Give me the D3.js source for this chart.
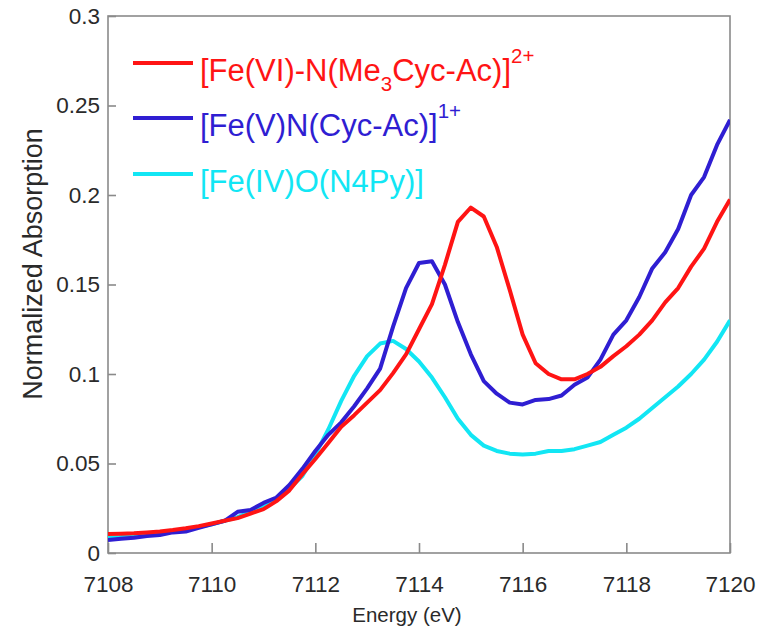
<!DOCTYPE html>
<html>
<head>
<meta charset="utf-8">
<script src="https://cdn.jsdelivr.net/npm/d3@7"></script>
<style>
  html, body { margin: 0; padding: 0; background: #fff; }
  svg { display: block; }
  text { font-family: "Liberation Sans", Arial, Helvetica, sans-serif; }
</style>
</head>
<body>
<svg id="chart" width="758" height="630"></svg>
<script>
// Energy grid (eV)
const energy = [
  7108.00, 7108.25, 7108.50, 7108.75, 7109.00, 7109.25, 7109.50, 7109.75,
  7110.00, 7110.25, 7110.50, 7110.75, 7111.00, 7111.25, 7111.50, 7111.75,
  7112.00, 7112.25, 7112.50, 7112.75, 7113.00, 7113.25, 7113.50, 7113.75,
  7114.00, 7114.25, 7114.50, 7114.75, 7115.00, 7115.25, 7115.50, 7115.75,
  7116.00, 7116.25, 7116.50, 7116.75, 7117.00, 7117.25, 7117.50, 7117.75,
  7118.00, 7118.25, 7118.50, 7118.75, 7119.00, 7119.25, 7119.50, 7119.75,
  7120.00
];
// [Fe(VI)-N(Me3Cyc-Ac)]2+
const feVI = [
  0.0106, 0.0108, 0.0110, 0.0115, 0.0120, 0.0128, 0.0138, 0.0150,
  0.0165, 0.0180, 0.0195, 0.0220, 0.0245, 0.0290, 0.0350, 0.0440,
  0.0525, 0.0615, 0.0705, 0.0770, 0.0840, 0.0910, 0.1005, 0.1110,
  0.1250, 0.1390, 0.1610, 0.1850, 0.1930, 0.1880, 0.1710, 0.1470,
  0.1220, 0.1060, 0.1000, 0.0970, 0.0970, 0.1000, 0.1040, 0.1100,
  0.1155, 0.1220, 0.1300, 0.1400, 0.1480, 0.1600, 0.1700, 0.1850,
  0.1975
];
// [Fe(V)N(Cyc-Ac)]1+
const feV = [
  0.0073, 0.0080, 0.0085, 0.0095, 0.0100, 0.0115, 0.0120, 0.0140,
  0.0160, 0.0180, 0.0230, 0.0240, 0.0280, 0.0310, 0.0380, 0.0470,
  0.0570, 0.0660, 0.0730, 0.0820, 0.0920, 0.1030, 0.1265, 0.1480,
  0.1620, 0.1630, 0.1500, 0.1290, 0.1110, 0.0960, 0.0890, 0.0840,
  0.0830, 0.0855, 0.0860, 0.0880, 0.0940, 0.0980, 0.1080, 0.1220,
  0.1300, 0.1430, 0.1590, 0.1680, 0.1810, 0.2000, 0.2100, 0.2280,
  0.2420
];
// [Fe(IV)O(N4Py)]
const feIV = [
  0.0084, 0.0090, 0.0098, 0.0105, 0.0110, 0.0120, 0.0130, 0.0145,
  0.0160, 0.0180, 0.0200, 0.0230, 0.0260, 0.0300, 0.0360, 0.0430,
  0.0550, 0.0690, 0.0850, 0.0990, 0.1100, 0.1170, 0.1185, 0.1140,
  0.1070, 0.0980, 0.0870, 0.0750, 0.0660, 0.0600, 0.0570, 0.0555,
  0.0550, 0.0555, 0.0570, 0.0570, 0.0580, 0.0600, 0.0620, 0.0660,
  0.0700, 0.0750, 0.0810, 0.0870, 0.0930, 0.1000, 0.1080, 0.1180,
  0.1300
];
const xTicks = [7108, 7110, 7112, 7114, 7116, 7118, 7120];
const yTicks = [0, 0.05, 0.1, 0.15, 0.2, 0.25, 0.3];
const seriesColors = ["#ff1414", "#2f1ed2", "#12e6f4"];

const svg = d3.select("#chart");
const L = 108, R = 730, T = 16, B = 553;
const x = d3.scaleLinear().domain([7108, 7120]).range([L, R]);
const y = d3.scaleLinear().domain([0, 0.3]).range([B, T]);
const frameColor = "#8a8a8a";

// frame
svg.append("rect").attr("x", L).attr("y", T).attr("width", R - L).attr("height", B - T)
  .attr("fill", "none").attr("stroke", frameColor).attr("stroke-width", 1.6);

// axes (ticks inward)
const xAxis = d3.axisBottom(x).tickValues(xTicks).tickSizeInner(-10).tickSizeOuter(0)
  .tickPadding(23).tickFormat(d3.format("d"));
const gx = svg.append("g").attr("transform", `translate(0,${B})`).call(xAxis);
const yAxis = d3.axisLeft(y).tickValues(yTicks).tickSizeInner(-8).tickSizeOuter(0)
  .tickPadding(8).tickFormat(d => d === 0 ? "0" : String(d));
const gy = svg.append("g").attr("transform", `translate(${L},0)`).call(yAxis);
[gx, gy].forEach(g => {
  g.select(".domain").remove();
  g.selectAll(".tick line").attr("stroke", frameColor).attr("stroke-width", 1.6);
  g.selectAll(".tick text").attr("fill", "#2a2a2a").style("font-size", "22.5px")
    .style("font-family", '"Liberation Sans", Arial, sans-serif');
});

// clip
svg.append("clipPath").attr("id", "clip").append("rect")
  .attr("x", L).attr("y", T).attr("width", R - L).attr("height", B - T);

const line = d3.line().x(d => x(d[0])).y(d => y(d[1]));
const dataSets = [feVI, feV, feIV];
const order = [2, 1, 0];
order.forEach(i => {
  svg.append("path")
    .datum(energy.map((e, k) => [e, dataSets[i][k]]))
    .attr("d", line)
    .attr("fill", "none")
    .attr("stroke", seriesColors[i])
    .attr("stroke-width", 4)
    .attr("stroke-linejoin", "round")
    .attr("clip-path", "url(#clip)");
});

// axis titles
svg.append("text").attr("x", 407).attr("y", 622).attr("text-anchor", "middle")
  .style("font-size", "20.5px").attr("fill", "#2a2a2a").text("Energy (eV)");
svg.append("text").attr("transform", `translate(42,264)rotate(-90)`)
  .attr("text-anchor", "middle").style("font-size", "27px").attr("fill", "#2a2a2a")
  .text("Normalized Absorption");

// legend
const legendY = [63, 118, 174];
const lg = svg.append("g");
legendY.forEach((ly, i) => {
  lg.append("line").attr("x1", 133).attr("x2", 193).attr("y1", ly).attr("y2", ly)
    .attr("stroke", seriesColors[i]).attr("stroke-width", 4);
});
function legendText(i, parts) {
  const t = lg.append("text").attr("x", 200).attr("y", legendY[i] + 18)
    .attr("fill", seriesColors[i]).style("font-size", "31px");
  parts.forEach(p => {
    const s = t.append("tspan").text(p.t);
    if (p.sub) s.attr("dy", 10).style("font-size", "20.5px");
    if (p.sup) s.attr("dy", -18).style("font-size", "20.5px");
    if (p.back) s.attr("dy", p.back);
  });
}
legendText(0, [{t: "[Fe(VI)-N(Me"}, {t: "3", sub: true}, {t: "Cyc-Ac)]", back: -10}, {t: "2+", sup: true}]);
legendText(1, [{t: "[Fe(V)N(Cyc-Ac)]"}, {t: "1+", sup: true}]);
legendText(2, [{t: "[Fe(IV)O(N4Py)]"}]);
</script>
</body>
</html>
